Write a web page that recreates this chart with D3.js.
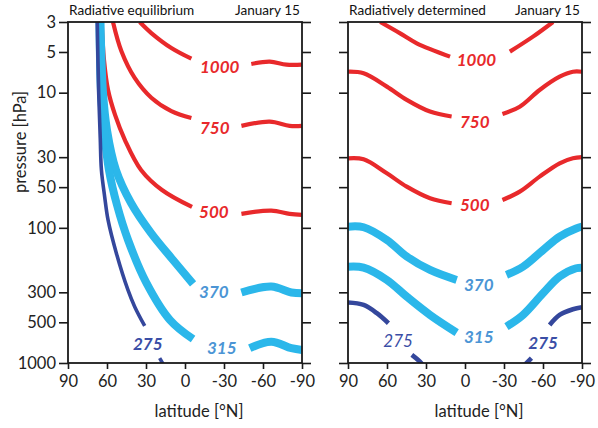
<!DOCTYPE html>
<html>
<head>
<meta charset="utf-8">
<script src="https://cdn.jsdelivr.net/npm/d3@7/dist/d3.min.js"></script>
<style>
  html, body { margin: 0; padding: 0; background: #fff; }
  svg { display: block; font-family: Lato, "Open Sans", sans-serif; }
</style>
</head>
<body>
<svg id="chart" width="598" height="428"></svg>
<script>
// ---------- DATA ----------
const latTicks = [90, 60, 30, 0, -30, -60, -90];
const pressureTicks = [3, 5, 10, 30, 50, 100, 300, 500, 1000];
const panelTitles = ["Radiative equilibrium", "Radiatively determined"];
const dateLabel = "January 15";
const levels = ["1000", "750", "500", "370", "315", "275"];

// Radiative equilibrium: each contour = list of segments of [latitude, pressure]
const re1000 = [[[34.8,3],[25.9,3.62],[10.5,4.67],[-4.9,5.6]],
                [[-51,6.13],[-65.2,5.9],[-78,6.2],[-90,6.2]]];
const re750  = [[[55.4,3],[48.9,4.94],[38.7,7.78],[25.9,10.9],[10.5,13.7],[-4.9,15.4]],
                [[-43.4,17.6],[-65.2,16.4],[-80.5,17.6],[-90,17.6]]];
const re500  = [[[64.1,3],[62.3,5.73],[59.2,9.56],[53.8,14.6],[46.2,22.4],[33.8,37.3],[17.7,52.5],[-5.4,70.1]],
                [[-43.4,78.9],[-66.4,74.6],[-80.5,78.9],[-90,80.3]]];
const re370  = [[[65.0,3],[63.1,9.9],[60.0,18.9],[53.1,37.3],[41.5,65.5],[26.2,109],[9.2,173],[-6.2,260]],
                [[-43.4,301],[-66.4,272],[-81.8,301],[-90,305]]];
const re315  = [[[65.8,3],[64.6,9.9],[62.3,18.9],[58.5,37.3],[52.3,67.8],[43.8,123],[30.0,252],[11.5,481],[-6.2,665]],
                [[-49.8,777],[-66.4,695],[-81.8,777],[-90,800]]];
const re275  = [[[67.5,3],[66.4,10],[65.2,21.6],[64.3,37.3],[61.8,58.8],[59.2,87.4],[52.8,154],[43.9,288],[38.7,383],[31,532]],
                [[19.5,921],[13.3,1164]]];

// Radiatively determined
const rd1000 = [[[65.2,3],[49.9,3.64],[37.1,4.31],[11.5,5.41]],
                [[-34.5,4.97],[-52.3,3.85],[-67.7,3]]];
const rd750  = [[[90,7.0],[78,7.19],[60.1,9.02],[44.8,11.3],[26.9,13.8],[10.3,15.0]],
                [[-28.8,14.4],[-42.1,12.7],[-57.4,9.55],[-72.8,7.62],[-83,7.0],[-90,7.0]]];
const rd500  = [[[90,30.6],[78,31.1],[60.1,39.5],[44.8,49.6],[26.9,60.4],[10.3,65.8]],
                [[-28.8,62.2],[-42.1,54],[-57.4,41.8],[-72.8,33.3],[-83,30.6],[-90,30]]];
const rd370  = [[[90,98],[78,99],[60.1,123],[44.8,163],[26.9,205],[6.4,243]],
                [[-31.9,223],[-44.6,194],[-60,146],[-72.8,116],[-85.5,101],[-90,98]]];
const rd315  = [[[90,194],[78,197],[60.1,243],[44.8,323],[26.9,441],[6.4,596]],
                [[-31.9,538],[-44.6,441],[-60,305],[-72.8,229],[-85.5,199],[-90,197]]];
const rd275  = [[[90,357],[78,372],[67.8,428],[58.9,508]],
                [[40.9,871],[33.3,1010],[30,1150]],
                [[-46,1030],[-51.1,921]],
                [[-65.1,523],[-72.8,441],[-83,400],[-90,387]]];

// contour label anchors [latitude, pressure] (left/baseline of text)
const reLabelPos = [[-11.5,7.15],[-11.5,20.2],[-10.8,84.6],[-10.8,330],[-16.9,858],[40,801]];
const rdLabelPos = [[6.4,6.3],[3.85,18.3],[3.85,75.1],[0.8,292],[0.8,715],[62.8,766],[-48.7,792]];

// ---------- STYLES ----------
const RED = "#e8292b", LBLUE = "#2bb7ea", DBLUE = "#34479c", LBLUE_TXT = "#4b95d5", DBLUE_TXT = "#3a4ea6";
const styleOf = {
  "1000": {stroke: RED, w: 4.2, txt: RED},
  "750":  {stroke: RED, w: 4.2, txt: RED},
  "500":  {stroke: RED, w: 4.2, txt: RED},
  "370":  {stroke: LBLUE, w: 8, txt: LBLUE_TXT},
  "315":  {stroke: LBLUE, w: 8, txt: LBLUE_TXT},
  "275":  {stroke: DBLUE, w: 3.6, txt: DBLUE_TXT}
};

const panels = [
  {x0: 68, title: panelTitles[0], contours: [re1000, re750, re500, re370, re315, re275],
   labels: reLabelPos, labelText: levels, showY: true, dbw: 3.6},
  {x0: 348, title: panelTitles[1], contours: [rd1000, rd750, rd500, rd370, rd315, rd275],
   labels: rdLabelPos, labelText: levels.concat(["275"]), showY: false, dbw: 4.6}
];

const W = 234, H = 341, TOP = 22;
const svg = d3.select("#chart");

const x = d3.scaleLinear().domain([90, -90]).range([0, W]);
const y = d3.scaleLog().domain([3, 1000]).range([0, H]);

const line = d3.line()
  .x(d => x(d[0])).y(d => y(d[1]))
  .curve(d3.curveCatmullRom.alpha(0.5));

panels.forEach((P, pi) => {
  const g = svg.append("g").attr("transform", `translate(${P.x0},${TOP})`);

  const clipId = "clip" + pi;
  svg.append("defs").append("clipPath").attr("id", clipId)
    .append("rect").attr("x", -2).attr("y", 0).attr("width", W + 8).attr("height", H);

  const plot = g.append("g").attr("clip-path", `url(#${clipId})`);
  P.contours.forEach((segs, ci) => {
    const lv = levels[ci];
    const st = styleOf[lv];
    plot.selectAll(null).data(segs).enter().append("path")
      .attr("d", line)
      .attr("fill", "none")
      .attr("stroke", st.stroke)
      .attr("stroke-width", lv === "275" ? P.dbw : st.w)
      .attr("stroke-linecap", "butt")
      .attr("stroke-linejoin", "round");
  });

  // contour labels
  P.labels.forEach((pos, li) => {
    const lv = P.labelText[li];
    const st = styleOf[lv];
    const lightWeight = (pi === 1 && li === 5);
    g.append("text")
      .attr("x", x(pos[0])).attr("y", y(pos[1]))
      .attr("fill", st.txt)
      .attr("font-size", 17)
      .attr("font-style", "italic")
      .attr("font-weight", lightWeight ? 400 : 700)
      .text(lv);
  });

  // axes
  const axL = d3.axisLeft(y).tickValues(pressureTicks).tickSize(9).tickPadding(3)
    .tickFormat(P.showY ? (d => String(d)) : (() => ""));
  const axR = d3.axisRight(y).tickValues(pressureTicks).tickSize(9).tickFormat(() => "");
  const axB = d3.axisBottom(x).tickValues(latTicks).tickSize(6).tickPadding(6)
    .tickFormat(d => String(d));

  const gl = g.append("g").call(axL);
  const gr = g.append("g").attr("transform", `translate(${W},0)`).call(axR);
  const gb = g.append("g").attr("transform", `translate(0,${H})`).call(axB);
  [gl, gr, gb].forEach(a => {
    a.select(".domain").remove();
    a.selectAll(".tick line").attr("stroke", "#1a1a1a").attr("stroke-width", 1.6);
    a.selectAll(".tick text").attr("fill", "#222").attr("font-size", 16.5)
      .attr("font-family", "Lato, 'Open Sans', sans-serif");
  });

  // frame
  g.append("rect").attr("x", 0).attr("y", 0).attr("width", W).attr("height", H)
    .attr("fill", "none").attr("stroke", "#1a1a1a").attr("stroke-width", 1.8);

  // titles
  g.append("text").attr("x", 1).attr("y", -7).attr("font-size", 13.6).attr("fill", "#111")
    .text(P.title);
  g.append("text").attr("x", W - 2).attr("y", -7).attr("font-size", 13.6).attr("fill", "#111")
    .attr("text-anchor", "end").text(dateLabel);

  // x axis label
  g.append("text").attr("x", W / 2 + 14).attr("y", H + 54).attr("font-size", 16.5)
    .attr("fill", "#222").attr("text-anchor", "middle").text("latitude [°N]");
});

// y axis label
svg.append("text")
  .attr("transform", `translate(26,${TOP + 120}) rotate(-90)`)
  .attr("text-anchor", "middle").attr("font-size", 16.5).attr("fill", "#222")
  .text("pressure [hPa]");
</script>
</body>
</html>
